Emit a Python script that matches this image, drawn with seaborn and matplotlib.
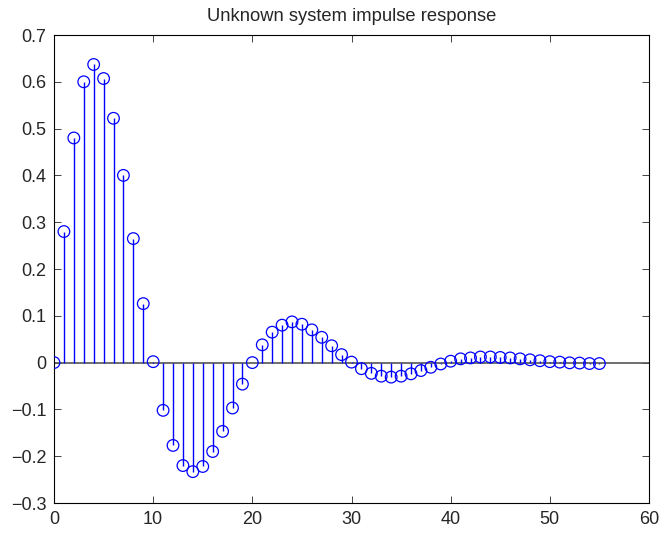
import numpy as np
import matplotlib
matplotlib.use("Agg")
import matplotlib.pyplot as plt
import seaborn as sns

# impulse response samples
n = list(range(56))
h = [0.0, 0.28, 0.48, 0.60, 0.637, 0.607, 0.522, 0.40, 0.265, 0.126,
     0.002, -0.102, -0.177, -0.22, -0.233, -0.222, -0.19, -0.147, -0.097, -0.046,
     0.0, 0.038, 0.065, 0.08, 0.087, 0.082, 0.07, 0.054, 0.036, 0.017,
     0.001, -0.013, -0.023, -0.029, -0.031, -0.029, -0.024, -0.017, -0.01, -0.003,
     0.003, 0.008, 0.01, 0.012, 0.012, 0.011, 0.01, 0.008, 0.006, 0.004,
     0.002, 0.001, -0.0005, -0.001, -0.002, -0.002]

x_ticks = [0, 10, 20, 30, 40, 50, 60]
y_ticks = [-0.3, -0.2, -0.1, 0, 0.1, 0.2, 0.3, 0.4, 0.5, 0.6, 0.7]

sns.set_style("white")
plt.rcParams['font.family'] = ['Liberation Sans', 'DejaVu Sans']

fig = plt.figure(figsize=(6.63, 5.35), dpi=100)
ax = fig.add_axes([54 / 663, 32 / 535, 595 / 663, 468 / 535])

ax.axhline(0, color="#555555", lw=1.2, zorder=1)
ax.vlines(n, 0, h, colors="#0000ff", lw=1.0, zorder=2)
sns.scatterplot(x=n, y=h, ax=ax, marker="o", s=70, facecolors="none",
                edgecolor="#0000ff", linewidth=0.9, zorder=3)

ax.set_xlim(0, 60)
ax.set_ylim(-0.3, 0.7)
ax.set_xticks(x_ticks)
ax.set_yticks(y_ticks)
ax.set_yticklabels(["\u22120.3", "\u22120.2", "\u22120.1", "0", "0.1", "0.2",
                    "0.3", "0.4", "0.5", "0.6", "0.7"])
ax.tick_params(direction="in", length=5, width=0.6, labelsize=13,
               top=True, right=True, bottom=True, left=True, pad=5.5)
for s in ax.spines.values():
    s.set_linewidth(0.8)
    s.set_color("black")
ax.set_title("Unknown system impulse response", fontsize=13.2, pad=10)

fig.savefig("out.png", dpi=100)
